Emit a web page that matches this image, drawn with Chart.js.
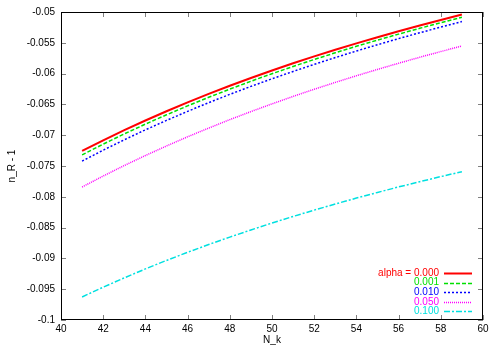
<!DOCTYPE html>
<html>
<head>
<meta charset="utf-8">
<script src="https://cdn.jsdelivr.net/npm/chart.js@4"></script>
<style>
  body { margin: 0; background: #fff; }
  canvas { display: block; }
</style>
</head>
<body>
<canvas id="c" width="500" height="350"></canvas>
<script>
// values
const nk = [41, 42, 43, 44, 45, 46, 47, 48, 49, 50, 51, 52, 53, 54, 55, 56, 57, 58, 59];
const labels = ['alpha = 0.000', '0.001', '0.010', '0.050', '0.100'];
const a000 = [-0.07256, -0.07083, -0.06919, -0.06761, -0.06611, -0.06467, -0.06330, -0.06198, -0.06071, -0.05950,
              -0.05833, -0.05721, -0.05613, -0.05509, -0.05409, -0.05313, -0.05219, -0.05129, -0.05042];
const a001 = [-0.07320, -0.07145, -0.06979, -0.06820, -0.06669, -0.06524, -0.06385, -0.06252, -0.06124, -0.06002,
              -0.05884, -0.05771, -0.05662, -0.05557, -0.05456, -0.05359, -0.05265, -0.05174, -0.05086];
const a010 = [-0.07420, -0.07243, -0.07074, -0.06913, -0.06760, -0.06613, -0.06472, -0.06337, -0.06208, -0.06084,
              -0.05965, -0.05850, -0.05740, -0.05633, -0.05531, -0.05432, -0.05337, -0.05245, -0.05155];
const a050 = [-0.07841, -0.07663, -0.07492, -0.07330, -0.07175, -0.07026, -0.06884, -0.06747, -0.06617, -0.06491,
              -0.06370, -0.06254, -0.06143, -0.06035, -0.05932, -0.05832, -0.05735, -0.05642, -0.05553];
const a100 = [-0.09626, -0.09467, -0.09316, -0.09171, -0.09033, -0.08901, -0.08775, -0.08654, -0.08538, -0.08426,
              -0.08319, -0.08216, -0.08117, -0.08021, -0.07929, -0.07840, -0.07755, -0.07672, -0.07592];

const colors = ['#ff0000', '#00e000', '#0000ff', '#ff00ff', '#00e0e0'];
const dashes = [[], [4, 2], [2, 2], [1, 1], [6, 2, 2, 2]];
const series = [a000, a001, a010, a050, a100];
const fontFam = '"Liberation Sans", Arial, sans-serif';

function pts(ys) {
    return nk.map((x, i) => ({ x: x, y: ys[i] }));
}

// gnuplot style frame, inward ticks and legend
const gnuFrame = {
    id: 'gnuFrame',
    afterDraw(chart) {
        const ctx = chart.ctx;
        const a = chart.chartArea;
        const xs = chart.scales.x, ys = chart.scales.y;
        ctx.save();
        ctx.strokeStyle = '#808080';
        ctx.lineWidth = 1;
        ctx.beginPath();
        xs.ticks.forEach(t => {
            const px = Math.round(xs.getPixelForValue(t.value)) + 0.5;
            ctx.moveTo(px, a.bottom); ctx.lineTo(px, a.bottom - 5);
            ctx.moveTo(px, a.top); ctx.lineTo(px, a.top + 5);
        });
        ys.ticks.forEach(t => {
            const py = Math.round(ys.getPixelForValue(t.value)) + 0.5;
            ctx.moveTo(a.left, py); ctx.lineTo(a.left + 5, py);
            ctx.moveTo(a.right, py); ctx.lineTo(a.right - 5, py);
        });
        ctx.stroke();
        ctx.strokeStyle = '#000';
        ctx.strokeRect(Math.round(a.left) + 0.5, Math.round(a.top) + 0.5,
                       Math.round(a.right - a.left) - 1, Math.round(a.bottom - a.top) - 1);

        // legend
        ctx.font = '10px ' + fontFam;
        ctx.textAlign = 'right';
        ctx.textBaseline = 'middle';
        chart.data.datasets.forEach((ds, i) => {
            const y = 273 + i * 9.6;
            ctx.fillStyle = ds.borderColor;
            ctx.fillText(ds.label, 439, y);
            ctx.strokeStyle = ds.borderColor;
            ctx.lineWidth = ds.borderWidth;
            ctx.setLineDash(ds.borderDash);
            ctx.beginPath();
            ctx.moveTo(444, Math.round(y) + 0.5);
            ctx.lineTo(472, Math.round(y) + 0.5);
            ctx.stroke();
        });
        ctx.restore();
    }
};

new Chart(document.getElementById('c'), {
    type: 'line',
    plugins: [gnuFrame],
    data: {
        datasets: series.map((s, i) => ({
            label: labels[i],
            data: pts(s),
            borderColor: colors[i],
            backgroundColor: colors[i],
            borderWidth: i === 0 ? 2 : 1.5,
            borderDash: dashes[i],
            pointRadius: 0,
            fill: false,
            tension: 0
        }))
    },
    options: {
        responsive: false,
        animation: false,
        layout: { padding: { left: 0, right: 17, top: 12, bottom: 0 } },
        plugins: {
            legend: { display: false },
            tooltip: { enabled: false }
        },
        scales: {
            x: {
                type: 'linear',
                min: 40,
                max: 60,
                afterFit: s => { s.height = 30; },
                border: { display: false },
                grid: { display: false, drawTicks: false },
                ticks: {
                    stepSize: 2,
                    padding: 3,
                    color: '#000',
                    font: { family: fontFam, size: 10 }
                },
                title: {
                    display: true,
                    text: 'N_k',
                    color: '#000',
                    padding: { top: 0, bottom: 4 },
                    font: { family: fontFam, size: 10 }
                }
            },
            y: {
                min: -0.1,
                max: -0.05,
                afterFit: s => { s.width = 61; },
                border: { display: false },
                grid: { display: false, drawTicks: false },
                ticks: {
                    stepSize: 0.005,
                    padding: 6,
                    color: '#000',
                    font: { family: fontFam, size: 10 },
                    callback: v => String(Number(v.toFixed(3)))
                },
                title: {
                    display: true,
                    text: 'n_R - 1',
                    color: '#000',
                    padding: { top: 6, bottom: 0 },
                    font: { family: fontFam, size: 10 }
                }
            }
        }
    }
});
</script>
</body>
</html>
